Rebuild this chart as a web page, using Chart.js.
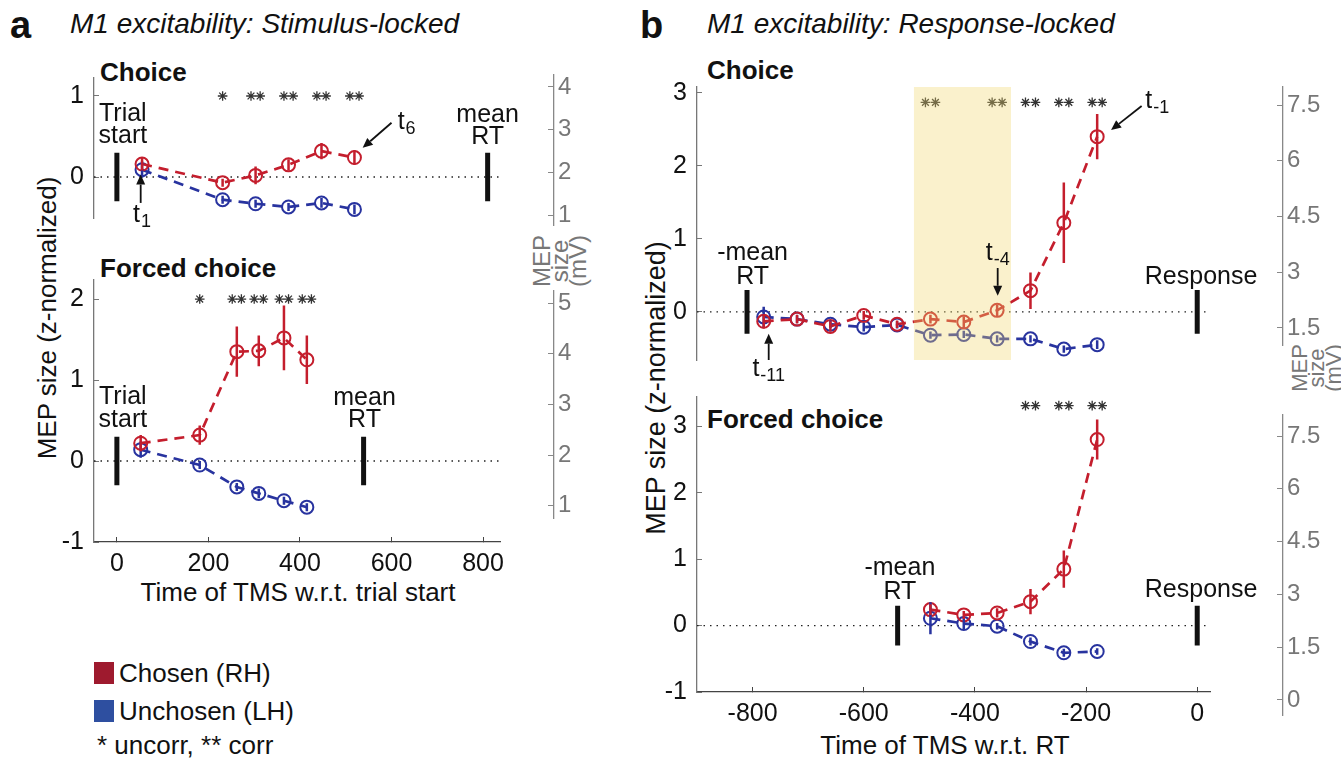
<!DOCTYPE html>
<html>
<head>
<meta charset="utf-8">
<script src="https://cdn.jsdelivr.net/npm/chart.js@4"></script>
<style>
  body { margin: 0; background: #fff; width: 1341px; height: 760px; overflow: hidden; position: relative;
         font-family: "Liberation Sans", Arial, Helvetica, sans-serif; color: #111; }
  canvas { position: absolute; }
  .t { position: absolute; white-space: nowrap; line-height: 1; }
  .rot { position: absolute; white-space: nowrap; line-height: 1; transform: translate(-50%, -50%) rotate(-90deg); }
  .sw { position: absolute; width: 20px; height: 22px; }
</style>
</head>
<body>

<div class="t" style="left:10px;top:6px;font-size:38px;font-weight:bold">a</div>
<div class="t" style="left:70px;top:10px;font-size:28px;font-style:italic">M1 excitability: Stimulus-locked</div>
<div class="t" style="left:640px;top:6px;font-size:38px;font-weight:bold">b</div>
<div class="t" style="left:707px;top:10px;font-size:28px;font-style:italic">M1 excitability: Response-locked</div>

<div class="t" style="left:100px;top:59px;font-size:26px;font-weight:bold">Choice</div>
<div class="t" style="left:100px;top:255px;font-size:26px;font-weight:bold">Forced choice</div>
<div class="t" style="left:707px;top:57px;font-size:26px;font-weight:bold">Choice</div>
<div class="t" style="left:707px;top:406px;font-size:26px;font-weight:bold">Forced choice</div>

<div class="rot" style="left:47px;top:318px;font-size:26px">MEP size (z-normalized)</div>
<div class="t" style="left:298px;top:579px;font-size:26px;transform:translateX(-50%)">Time of TMS w.r.t. trial start</div>
<div class="rot" style="left:656px;top:388px;font-size:27px">MEP size (z-normalized)</div>
<div class="t" style="left:945px;top:732px;font-size:26px;transform:translateX(-50%)">Time of TMS w.r.t. RT</div>

<div class="rot" style="left:560px;top:261px;font-size:24px;line-height:18px;color:#777;text-align:center">MEP<br>size<br>(mV)</div>
<div class="rot" style="left:1316px;top:368px;font-size:22px;line-height:17px;color:#777;text-align:center">MEP<br>size<br>(mV)</div>

<div class="sw" style="left:94px;top:662px;background:#9e1a2e"></div>
<div class="t" style="left:119px;top:660px;font-size:26px">Chosen (RH)</div>
<div class="sw" style="left:94px;top:700px;background:#2e4fa0"></div>
<div class="t" style="left:119px;top:698px;font-size:26px">Unchosen (LH)</div>
<div class="t" style="left:97px;top:732px;font-size:26px">* uncorr, ** corr</div>

<script>
// ---- panel a: stimulus-locked ----
const timesA1 = [55, 231, 303, 375, 447, 519];
const redA1 = [0.16, -0.07, 0.02, 0.15, 0.32, 0.24];
const redErrA1 = [0.08, 0.05, 0.11, 0.07, 0.10, 0.09];
const blueA1 = [0.09, -0.28, -0.33, -0.37, -0.32, -0.40];
const blueErrA1 = [0.10, 0.05, 0.05, 0.05, 0.06, 0.06];
const starsA1 = [0, 1, 2, 2, 2, 2];
const eventsA1 = [0, 810];

const timesA2 = [52, 181, 262, 310, 365, 415];
const redA2 = [0.22, 0.32, 1.35, 1.36, 1.52, 1.25];
const redErrA2 = [0.10, 0.12, 0.31, 0.19, 0.40, 0.30];
const blueA2 = [0.14, -0.05, -0.32, -0.40, -0.49, -0.57];
const blueErrA2 = [0.10, 0.05, 0.05, 0.06, 0.05, 0.05];
const starsA2 = [0, 1, 2, 2, 2, 2];
const eventsA2 = [0, 539];

// ---- panel b: response-locked ----
const timesB1 = [-780, -720, -660, -600, -540, -480, -420, -360, -300, -240, -180];
const redB1 = [-0.13, -0.10, -0.20, -0.05, -0.17, -0.10, -0.14, 0.02, 0.29, 1.22, 2.40];
const redErrB1 = [0.10, 0.06, 0.07, 0.06, 0.05, 0.06, 0.08, 0.08, 0.25, 0.55, 0.31];
const blueB1 = [-0.07, -0.10, -0.17, -0.21, -0.18, -0.32, -0.31, -0.37, -0.37, -0.51, -0.45];
const blueErrB1 = [0.14, 0.05, 0.05, 0.06, 0.05, 0.05, 0.05, 0.05, 0.05, 0.05, 0.06];
const starsB1 = [0, 0, 0, 0, 0, 2, 0, 2, 2, 2, 2];
const eventsB1 = [-810, 0];
const shadeB1 = [-510, -335];

const timesB2 = [-480, -420, -360, -300, -240, -180];
const redB2 = [0.24, 0.16, 0.19, 0.36, 0.85, 2.80];
const redErrB2 = [0.08, 0.06, 0.07, 0.19, 0.28, 0.30];
const blueB2 = [0.11, 0.03, -0.01, -0.24, -0.41, -0.39];
const blueErrB2 = [0.24, 0.08, 0.05, 0.06, 0.06, 0.05];
const starsB2 = [0, 0, 0, 2, 2, 2];
const eventsB2 = [-539, 0];

// tick labels
const xTicksA = [0, 200, 400, 600, 800];
const xTicksB = [-800, -600, -400, -200, 0];
const yTicksA1 = [0, 1];
const yTicksA2 = [-1, 0, 1, 2];
const yTicksB1 = [0, 1, 2, 3];
const yTicksB2 = [-1, 0, 1, 2, 3];
const mvTicksA1 = [1, 2, 3, 4];
const mvTicksA2 = [1, 2, 3, 4, 5];
const mvTicksB1 = [1.5, 3, 4.5, 6, 7.5];
const mvTicksB2 = [0, 1.5, 3, 4.5, 6, 7.5];

const FAM = '"Liberation Sans", Arial, Helvetica, sans-serif';
const RED = '#c41e2d';
const BLUE = '#28339f';
Chart.defaults.font.family = FAM;
Chart.defaults.color = '#111';

function series(times, vals, errs, color) {
  const pts = times.map((t, i) => ({ x: t, y: vals[i] }));
  const bars = [];
  times.forEach((t, i) => bars.push({ x: t, y: vals[i] - errs[i] }, { x: t, y: vals[i] + errs[i] }, { x: t, y: null }));
  return [
    { data: pts, borderColor: color, borderWidth: 2.7, borderDash: [10, 7], pointRadius: 6.5, pointBorderWidth: 2,
      pointBorderColor: color, pointBackgroundColor: 'rgba(0,0,0,0)', order: 5 },
    { data: bars, borderColor: color, borderWidth: 2.5, pointRadius: 0, spanGaps: false, order: 4 }
  ];
}

function events(times, half) {
  const d = [];
  times.forEach(t => d.push({ x: t, y: -half }, { x: t, y: half }, { x: t, y: null }));
  return { data: d, borderColor: '#111', borderWidth: 5, borderCapStyle: 'butt', pointRadius: 0, spanGaps: false, order: 8 };
}

function stars(times, counts, level, gap) {
  const d = [];
  times.forEach((t, i) => {
    if (counts[i] === 1) d.push({ x: t, y: level });
    if (counts[i] === 2) d.push({ x: t - gap, y: level }, { x: t + gap, y: level });
  });
  return { data: d, showLine: false, pointStyle: 'star', pointRadius: 4.8, pointBorderWidth: 1.3,
           pointBorderColor: '#333', pointBackgroundColor: '#333', order: 3 };
}

function zeroLine(xr) {
  return { data: [{ x: xr[0], y: 0 }, { x: xr[1], y: 0 }], borderColor: '#222', borderWidth: 1.3,
           borderDash: [1.5, 5], pointRadius: 0, order: 9 };
}

function shade(range, yr) {
  return { data: [{ x: range[0], y: yr[1] }, { x: range[1], y: yr[1] }], fill: 'start',
           backgroundColor: 'rgba(240,215,110,0.35)', borderColor: 'rgba(0,0,0,0)', borderWidth: 0, pointRadius: 0, order: 0 };
}

function notesPlugin(notes) {
  return {
    id: 'notes',
    afterDatasetsDraw(chart) {
      const c = chart.ctx, xs = chart.scales.x, ys = chart.scales.y;
      c.save();
      c.fillStyle = '#111';
      c.strokeStyle = '#111';
      notes.forEach(n => {
        if (n.arrow) {
          const x1 = xs.getPixelForValue(n.arrow[0]), y1 = ys.getPixelForValue(n.arrow[1]);
          const x2 = xs.getPixelForValue(n.arrow[2]), y2 = ys.getPixelForValue(n.arrow[3]);
          const a = Math.atan2(y2 - y1, x2 - x1), hl = 10, hw = 4.5;
          const bx = x2 - hl * Math.cos(a), by = y2 - hl * Math.sin(a);
          c.lineWidth = 1.8;
          c.beginPath(); c.moveTo(x1, y1); c.lineTo(bx, by); c.stroke();
          c.beginPath();
          c.moveTo(x2, y2);
          c.lineTo(bx + hw * Math.sin(a), by - hw * Math.cos(a));
          c.lineTo(bx - hw * Math.sin(a), by + hw * Math.cos(a));
          c.closePath(); c.fill();
          return;
        }
        const x = xs.getPixelForValue(n.x), y = ys.getPixelForValue(n.y);
        c.textBaseline = 'middle';
        c.font = '25px ' + FAM;
        if (n.sub) {
          const w1 = c.measureText(n.text).width;
          c.font = '18px ' + FAM;
          const w2 = c.measureText(n.sub).width;
          const x0 = x - (w1 + w2 + 1) / 2;
          c.textAlign = 'left';
          c.font = '25px ' + FAM;
          c.fillText(n.text, x0, y);
          c.font = '18px ' + FAM;
          c.fillText(n.sub, x0 + w1 + 1, y + 7);
        } else {
          c.textAlign = 'center';
          c.fillText(n.text, x, y);
        }
      });
      c.restore();
    }
  };
}

function addCanvas(box) {
  const cv = document.createElement('canvas');
  cv.width = box[2]; cv.height = box[3];
  cv.style.left = box[0] + 'px'; cv.style.top = box[1] + 'px';
  document.body.appendChild(cv);
  return cv;
}

function fixedTicks(list) {
  return s => { s.ticks = list.map(v => ({ value: v })); };
}

function noMargins(s) {
  s.paddingTop = 0; s.paddingBottom = 0; s.paddingLeft = 0; s.paddingRight = 0;
}

function mainPanel(p) {
  const [bl, bt, bw, bh] = p.box;
  const [al, at, ar, ab] = p.area;
  const xH = p.xTicks ? 42 : 0;
  const cv = addCanvas(p.box);
  new Chart(cv, {
    type: 'line',
    data: { datasets: p.datasets },
    options: {
      responsive: false, animation: false, devicePixelRatio: 1, events: [],
      layout: { autoPadding: false, padding: { left: 0, top: at - bt, right: bl + bw - ar, bottom: bt + bh - ab - xH } },
      plugins: { legend: { display: false }, tooltip: { enabled: false } },
      scales: {
        x: {
          type: 'linear', min: p.xr[0], max: p.xr[1], display: !!p.xTicks,
          afterBuildTicks: fixedTicks(p.xTicks || []),
          afterFit: s => { s.height = xH; noMargins(s); },
          grid: { drawOnChartArea: false, drawTicks: true, tickLength: -5, tickColor: '#444', tickWidth: 1 },
          border: { color: '#444', width: 1.3 },
          ticks: { padding: 12, color: '#111', font: { size: 25 }, maxRotation: 0, autoSkip: false, callback: v => String(v) }
        },
        y: {
          type: 'linear', min: p.yr[0], max: p.yr[1],
          afterBuildTicks: fixedTicks(p.yTicks),
          afterFit: s => { s.width = al - bl; noMargins(s); },
          grid: { drawOnChartArea: false, drawTicks: true, tickLength: -5, tickColor: '#777', tickWidth: 1 },
          border: { color: '#777', width: 1.3 },
          ticks: { padding: 15, color: '#111', font: { size: 25 }, autoSkip: false, callback: v => String(v) }
        }
      }
    },
    plugins: [notesPlugin(p.notes)]
  });
}

function mvAxis(p) {
  const [bl, bt, bw, bh] = p.box;
  const [al, at, ar, ab] = p.area;
  const cv = addCanvas(p.box);
  new Chart(cv, {
    type: 'line',
    data: { datasets: [] },
    options: {
      responsive: false, animation: false, devicePixelRatio: 1, events: [],
      layout: { autoPadding: false, padding: { left: al - bl, top: at - bt, right: 0, bottom: bt + bh - ab } },
      plugins: { legend: { display: false }, tooltip: { enabled: false } },
      scales: {
        x: { type: 'linear', display: false, min: 0, max: 1 },
        y: {
          type: 'linear', position: 'right', min: p.yr[0], max: p.yr[1],
          afterBuildTicks: fixedTicks(p.ticks),
          afterFit: s => { s.width = bl + bw - ar; noMargins(s); },
          grid: { drawOnChartArea: true, drawTicks: false, color: '#888', lineWidth: 1 },
          border: { color: '#888', width: 1.3 },
          ticks: { padding: 4, color: '#777', font: { size: 24 }, autoSkip: false, callback: v => String(v) }
        }
      }
    }
  });
}

// ---- a, choice ----
const xrA = [-50, 837];
const yrA1 = [-0.506, 1.222];
mainPanel({
  box: [20, 68, 520, 165], area: [94, 78, 500, 218], xr: xrA, yr: yrA1, xTicks: null, yTicks: yTicksA1,
  datasets: [zeroLine(xrA), events(eventsA1, 0.3), ...series(timesA1, redA1, redErrA1, RED),
             ...series(timesA1, blueA1, blueErrA1, BLUE), stars(timesA1, starsA1, 1.0, 10)],
  notes: [
    { x: 13, y: 0.78, text: 'Trial' }, { x: 13, y: 0.51, text: 'start' },
    { x: 810, y: 0.77, text: 'mean' }, { x: 810, y: 0.49, text: 'RT' },
    { x: 633, y: 0.68, text: 't', sub: '6' }, { arrow: [600, 0.67, 537, 0.36] },
    { x: 55, y: -0.47, text: 't', sub: '1' }, { arrow: [52, -0.32, 52, 0.03] }
  ]
});

// ---- a, forced choice ----
const yrA2 = [-1, 2.235];
mainPanel({
  box: [20, 270, 520, 312], area: [94, 280, 500, 542], xr: xrA, yr: yrA2, xTicks: xTicksA, yTicks: yTicksA2,
  datasets: [zeroLine(xrA), events(eventsA2, 0.3), ...series(timesA2, redA2, redErrA2, RED),
             ...series(timesA2, blueA2, blueErrA2, BLUE), stars(timesA2, starsA2, 2.0, 10)],
  notes: [
    { x: 13, y: 0.79, text: 'Trial' }, { x: 13, y: 0.51, text: 'start' },
    { x: 541, y: 0.78, text: 'mean' }, { x: 541, y: 0.51, text: 'RT' }
  ]
});

// ---- b, choice ----
const xrB = [-900, 23];
const yrB1 = [-0.66, 3.08];
mainPanel({
  box: [615, 78, 655, 307], area: [697, 87, 1210, 360], xr: xrB, yr: yrB1, xTicks: null, yTicks: yTicksB1,
  datasets: [zeroLine(xrB), events(eventsB1, 0.3), ...series(timesB1, redB1, redErrB1, RED),
             ...series(timesB1, blueB1, blueErrB1, BLUE), stars(timesB1, starsB1, 2.87, 9), shade(shadeB1, yrB1)],
  notes: [
    { x: -800, y: 0.81, text: '-mean' }, { x: -800, y: 0.48, text: 'RT' },
    { x: 7, y: 0.48, text: 'Response' },
    { x: -359, y: 0.81, text: 't', sub: '-4' }, { arrow: [-359, 0.6, -359, 0.22] },
    { x: -771, y: -0.79, text: 't', sub: '-11' }, { arrow: [-771, -0.66, -771, -0.3] },
    { x: -72, y: 2.89, text: 't', sub: '-1' }, { arrow: [-100, 2.82, -155, 2.49] }
  ]
});

// ---- b, forced choice ----
const yrB2 = [-1, 3.44];
mainPanel({
  box: [615, 388, 655, 346], area: [697, 397, 1210, 692], xr: xrB, yr: yrB2, xTicks: xTicksB, yTicks: yTicksB2,
  datasets: [zeroLine(xrB), events(eventsB2, 0.3), ...series(timesB2, redB2, redErrB2, RED),
             ...series(timesB2, blueB2, blueErrB2, BLUE), stars(timesB2, starsB2, 3.31, 9)],
  notes: [
    { x: -535, y: 0.87, text: '-mean' }, { x: -535, y: 0.51, text: 'RT' },
    { x: 7, y: 0.54, text: 'Response' }
  ]
});

// ---- right-hand MEP size (mV) axes ----
mvAxis({ box: [540, 65, 70, 170], area: [548, 75, 554, 225], yr: [0.77, 4.28], ticks: mvTicksA1 });
mvAxis({ box: [540, 281, 70, 247], area: [548, 291, 554, 518], yr: [0.76, 5.24], ticks: mvTicksA2 });
mvAxis({ box: [1270, 77, 71, 278], area: [1277, 87, 1283, 345], yr: [1.04, 7.985], ticks: mvTicksB1 });
mvAxis({ box: [1270, 405, 71, 320], area: [1277, 415, 1283, 715], yr: [-0.43, 8.1], ticks: mvTicksB2 });
</script>
</body>
</html>
